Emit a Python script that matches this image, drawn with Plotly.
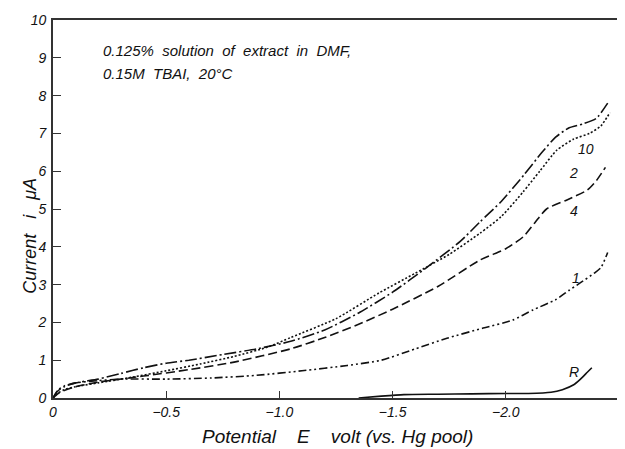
import plotly.graph_objects as go

# ---- data (potential in V vs Hg pool, current in µA) ----
v10 = [0, -0.02, -0.05, -0.1, -0.2, -0.3, -0.4, -0.5, -0.6, -0.75, -0.9, -1.05, -1.2, -1.35, -1.5, -1.65, -1.8, -1.886, -1.98, -2.08, -2.16, -2.22, -2.28, -2.34, -2.40, -2.45]
i10 = [0, 0.18, 0.3, 0.4, 0.5, 0.65, 0.8, 0.92, 1.0, 1.15, 1.3, 1.5, 1.8, 2.25, 2.8, 3.45, 4.15, 4.66, 5.2, 5.9, 6.5, 6.9, 7.15, 7.25, 7.4, 7.8]

v2 = [0, -0.02, -0.05, -0.1, -0.2, -0.35, -0.5, -0.65, -0.8, -0.95, -1.05, -1.25, -1.44, -1.6, -1.75, -1.886, -1.98, -2.076, -2.15, -2.226, -2.30, -2.37, -2.42, -2.46]
i2 = [0, 0.12, 0.22, 0.3, 0.4, 0.55, 0.72, 0.9, 1.1, 1.35, 1.6, 2.1, 2.78, 3.3, 3.8, 4.36, 4.8, 5.45, 6.0, 6.56, 6.85, 7.0, 7.2, 7.55]

v4 = [0, -0.03, -0.1, -0.2, -0.4, -0.6, -0.8, -1.05, -1.2, -1.35, -1.5, -1.7, -1.886, -2.0, -2.076, -2.13, -2.18, -2.27, -2.36, -2.40, -2.44]
i4 = [0, 0.15, 0.3, 0.42, 0.58, 0.75, 0.95, 1.3, 1.6, 1.95, 2.35, 2.95, 3.65, 3.95, 4.26, 4.65, 5.0, 5.24, 5.5, 5.75, 6.1]

v1 = [0, -0.02, -0.05, -0.1, -0.2, -0.3, -0.5, -0.7, -0.9, -1.1, -1.3, -1.45, -1.6, -1.74, -1.9, -2.03, -2.12, -2.22, -2.28, -2.33, -2.39, -2.42, -2.45]
i1 = [0, 0.2, 0.32, 0.4, 0.46, 0.5, 0.5, 0.53, 0.6, 0.72, 0.86, 1.0, 1.3, 1.58, 1.85, 2.06, 2.33, 2.6, 2.85, 3.05, 3.3, 3.45, 3.85]

vR = [-1.35, -1.45, -1.55, -1.7, -1.85, -2.0, -2.1, -2.2, -2.25, -2.3, -2.33, -2.36, -2.38]
iR = [0, 0.05, 0.09, 0.1, 0.11, 0.12, 0.12, 0.15, 0.22, 0.35, 0.5, 0.68, 0.8]

curve_labels = ["10", "2", "4", "1", "R"]
label_pos_v = [-2.355, -2.30, -2.30, -2.31, -2.30]
label_pos_i = [6.6, 5.95, 4.95, 3.17, 0.7]

x_tick_vals = [0, -0.5, -1.0, -1.5, -2.0, -2.5]
x_tick_text = ["0", "\u22120.5", "\u22121.0", "\u22121.5", "\u22122.0", "\u22122.5"]
y_tick_vals = list(range(0, 11))
y_tick_text = [str(v) for v in y_tick_vals]

FONT = "Liberation Sans"
INK = "#111111"

fig = go.Figure()
styles = [
    (v10, i10, "12px,3px,2px,3px"),
    (v2, i2, "2px,2px"),
    (v4, i4, "9px,4px"),
    (v1, i1, "8px,3px,2px,3px,2px,3px"),
    (vR, iR, "solid"),
]
for xs, ys, dash in styles:
    fig.add_trace(go.Scatter(x=xs, y=ys, mode="lines", line=dict(color=INK, width=1.6, dash=dash, shape="spline", smoothing=0.6), showlegend=False, hoverinfo="skip"))

for t, lx, ly in zip(curve_labels, label_pos_v, label_pos_i):
    fig.add_annotation(x=lx, y=ly, text=t, showarrow=False, font=dict(family=FONT, size=14, color=INK, style="italic"))

fig.add_annotation(xref="paper", yref="paper", x=0.085, y=0.892, xanchor="left", yanchor="bottom",
                   text="0.125%  solution  of  extract  in  DMF,", showarrow=False,
                   font=dict(family=FONT, size=15, color=INK, style="italic"))
fig.add_annotation(xref="paper", yref="paper", x=0.085, y=0.83, xanchor="left", yanchor="bottom",
                   text="0.15M  TBAI,  20°C", showarrow=False,
                   font=dict(family=FONT, size=15, color=INK, style="italic"))

# axis titles
fig.add_annotation(xref="paper", yref="paper", x=0.502, y=-0.103, xanchor="center", yanchor="middle",
                   text="Potential    E    volt (vs. Hg pool)", showarrow=False,
                   font=dict(family=FONT, size=19, color=INK, style="italic"))
fig.add_annotation(xref="paper", yref="paper", x=-0.04, y=0.43, xanchor="center", yanchor="middle",
                   text="Current   i   μA", textangle=-90, showarrow=False,
                   font=dict(family=FONT, size=18, color=INK, style="italic"))

# the page body has an 8px default margin, so the figure is sized to fit the window
fig.update_layout(
    width=617, height=441,
    margin=dict(l=45, r=6, t=12, b=51),
    paper_bgcolor="white", plot_bgcolor="white",
    font=dict(family=FONT, color=INK),
    xaxis=dict(range=[0, -2.5], tickvals=x_tick_vals, ticktext=x_tick_text, automargin=False,
               ticks="inside", ticklen=7, tickcolor="#333", showgrid=False, zeroline=False,
               showline=True, linecolor="#333", linewidth=1.8, mirror=True,
               ticklabelstandoff=0,
               tickfont=dict(family=FONT, size=14, style="italic")),
    yaxis=dict(range=[0, 10], tickvals=y_tick_vals, ticktext=y_tick_text, automargin=False,
               ticks="inside", ticklen=8, tickcolor="#333", showgrid=False, zeroline=False,
               showline=True, linecolor="#333", linewidth=1.8, mirror=True,
               ticklabelstandoff=2,
               tickfont=dict(family=FONT, size=14, style="italic")),
)

fig.write_html("out.html")
